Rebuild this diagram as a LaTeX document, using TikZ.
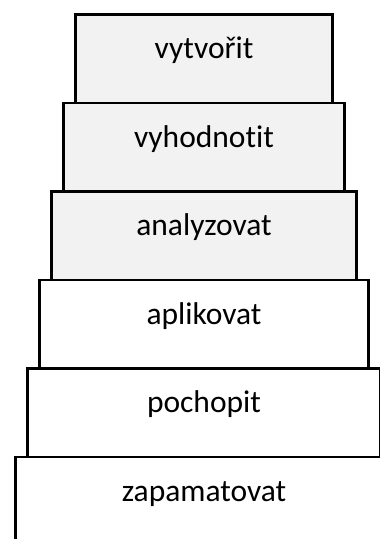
\documentclass[tikz,border=0pt]{standalone}
\usepackage{fontspec}
\setmainfont[RawFeature=-liga]{Carlito}
\usetikzlibrary{positioning}
\definecolor{boxgray}{HTML}{F2F2F2}

\begin{document}
\begin{tikzpicture}[x=1pt,y=1pt,
  lvl/.style={draw=black,line width=2.6pt,outer sep=0pt,inner sep=0pt,
    minimum height=88.5pt,text height=20pt,text depth=20pt,
    font=\fontsize{31.5}{38}\selectfont},
  hi/.style={lvl,fill=boxgray},
  lo/.style={lvl,fill=white},
  node distance=0pt]
  \useasboundingbox (0,0) rectangle (380,539);
  \clip (0,0) rectangle (380,539);
  \node[hi,minimum width=257pt] (l6) at (204,480.25) {vytvořit};
  \node[hi,minimum width=281pt] (l5) [below=of l6] {vyhodnotit};
  \node[hi,minimum width=305pt] (l4) [below=of l5] {analyzovat};
  \node[lo,minimum width=329pt] (l3) [below=of l4] {aplikovat};
  \node[lo,minimum width=353pt] (l2) [below=of l3] {pochopit};
  \node[lo,minimum width=377pt] (l1) [below=of l2] {zapamatovat};
\end{tikzpicture}
\end{document}
